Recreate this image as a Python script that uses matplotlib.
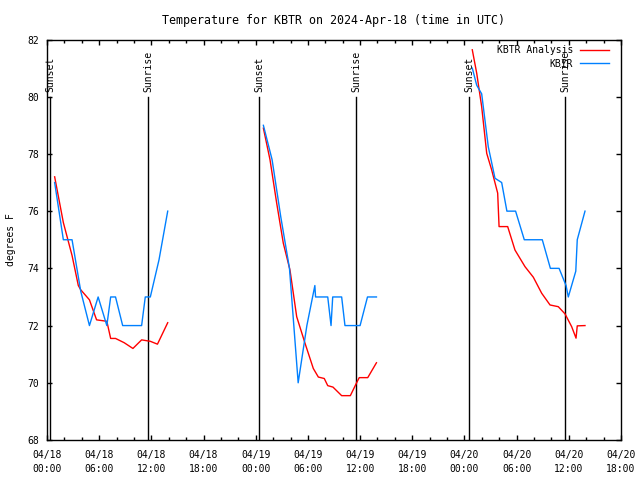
import matplotlib
matplotlib.use("Agg")
import matplotlib.pyplot as plt
from matplotlib.ticker import MultipleLocator

# hours since 2024-04-18 00:00 UTC, one list per night
analysis_hours = [
    [0.88, 1.88, 2.88, 3.6, 3.88, 4.88, 5.7, 6.88, 7.32, 7.88, 8.88, 9.88, 10.88, 11.88, 12.7, 13.88],
    [24.88, 25.64, 26.41, 27.17, 27.94, 28.71, 29.67, 30.62, 31.2, 31.88, 32.28, 32.88, 33.88, 34.88,
     35.6, 35.9, 36.88, 37.88],
    [48.9, 49.41, 49.98, 50.56, 51.13, 51.82, 51.98, 52.97, 53.81, 54.96, 55.92, 56.88, 57.84, 58.79,
     59.56, 60.33, 60.83, 60.97, 61.86],
]
analysis_temps = [
    [77.2, 75.6, 74.45, 73.4, 73.25, 72.9, 72.2, 72.15, 71.55, 71.55, 71.4, 71.2, 71.5, 71.45, 71.35, 72.1],
    [78.9, 77.8, 76.28, 74.88, 73.94, 72.31, 71.38, 70.5, 70.2, 70.15, 69.9, 69.85, 69.55, 69.55,
     70.0, 70.18, 70.18, 70.7],
    [81.64, 80.82, 79.65, 78.02, 77.44, 76.63, 75.46, 75.46, 74.64, 74.06, 73.69, 73.13, 72.72, 72.66,
     72.41, 71.96, 71.56, 71.99, 72.0],
]

obs_hours = [
    [0.88, 1.88, 2.88, 3.88, 4.88, 5.88, 6.88, 7.32, 7.88, 8.7, 9.88, 10.88, 11.3, 11.88, 12.88, 13.88],
    [24.88, 25.88, 26.88, 27.88, 28.88, 29.88, 30.8, 30.88, 32.28, 32.66, 32.85, 33.88, 34.26, 36.0,
     36.85, 37.88],
    [48.9, 49.41, 49.98, 50.74, 51.51, 52.28, 52.88, 53.88, 54.88, 56.95, 57.88, 58.88, 59.68, 59.94,
     60.8, 60.97, 61.86],
]
obs_temps = [
    [77, 75, 75, 73.2, 72, 73, 72, 73, 73, 72, 72, 72, 73, 73, 74.3, 76],
    [79, 77.8, 75.8, 74, 70, 72, 73.4, 73, 73, 72, 73, 73, 72, 72, 73, 73],
    [81, 80.4, 80.1, 78.25, 77.15, 77, 76, 76, 75, 75, 74, 74, 73.4, 73, 73.9, 75, 76],
]

sunset_hours = [0.34, 24.41, 48.56]
sunrise_hours = [11.61, 35.53, 59.6]

tick_hours = [0, 6, 12, 18, 24, 30, 36, 42, 48, 54, 60, 66]
tick_labels = ["04/18\n00:00", "04/18\n06:00", "04/18\n12:00", "04/18\n18:00",
               "04/19\n00:00", "04/19\n06:00", "04/19\n12:00", "04/19\n18:00",
               "04/20\n00:00", "04/20\n06:00", "04/20\n12:00", "04/20\n18:00"]

plt.rcParams['font.family'] = ['DejaVu Sans Mono']
plt.rcParams['font.size'] = 7

fig = plt.figure(figsize=(6.4, 4.8), dpi=100)
ax = fig.add_axes([47 / 640, 1 - 440 / 480, 574 / 640, 400.5 / 480])

# sunrise / sunset markers
for h in sunset_hours:
    ax.plot([h, h], [68, 80], color='black', lw=1.0)
    ax.text(h, 80.15, "Sunset", rotation=90, ha='center', va='bottom')
for h in sunrise_hours:
    ax.plot([h, h], [68, 80], color='black', lw=1.0)
    ax.text(h, 80.15, "Sunrise", rotation=90, ha='center', va='bottom')

for i in range(len(analysis_hours)):
    ax.plot(analysis_hours[i], analysis_temps[i], color='#ff0000', lw=1.0,
            label="KBTR Analysis" if i == 0 else None)
for i in range(len(obs_hours)):
    ax.plot(obs_hours[i], obs_temps[i], color='#0080ff', lw=1.0,
            label="KBIR" if i == 0 else None)

ax.set_xlim(0, 66)
ax.set_ylim(68, 82)
ax.set_xticks(tick_hours)
ax.set_xticklabels(tick_labels, linespacing=1.5)
ax.xaxis.set_minor_locator(MultipleLocator(2))
ax.yaxis.set_major_locator(MultipleLocator(2))
ax.tick_params(which='both', direction='in', top=True, right=True, width=1.0)
ax.tick_params(which='major', length=3.4, pad=7)
ax.tick_params(which='minor', length=1.9)
ax.tick_params(axis='y', pad=6)
for s in ax.spines.values():
    s.set_linewidth(1.0)

ax.set_title("Temperature for KBTR on 2024-Apr-18 (time in UTC)", pad=11)
ax.set_ylabel("degrees F")
ax.yaxis.set_label_coords(-0.054, 0.5)

ax.legend(loc='upper right', bbox_to_anchor=(1 - 6 / 574, 1), frameon=False, markerfirst=False,
          handlelength=3.0, handletextpad=0.7, labelspacing=0.35, borderaxespad=0.3, borderpad=0.3)

fig.savefig("out.png", dpi=100)
